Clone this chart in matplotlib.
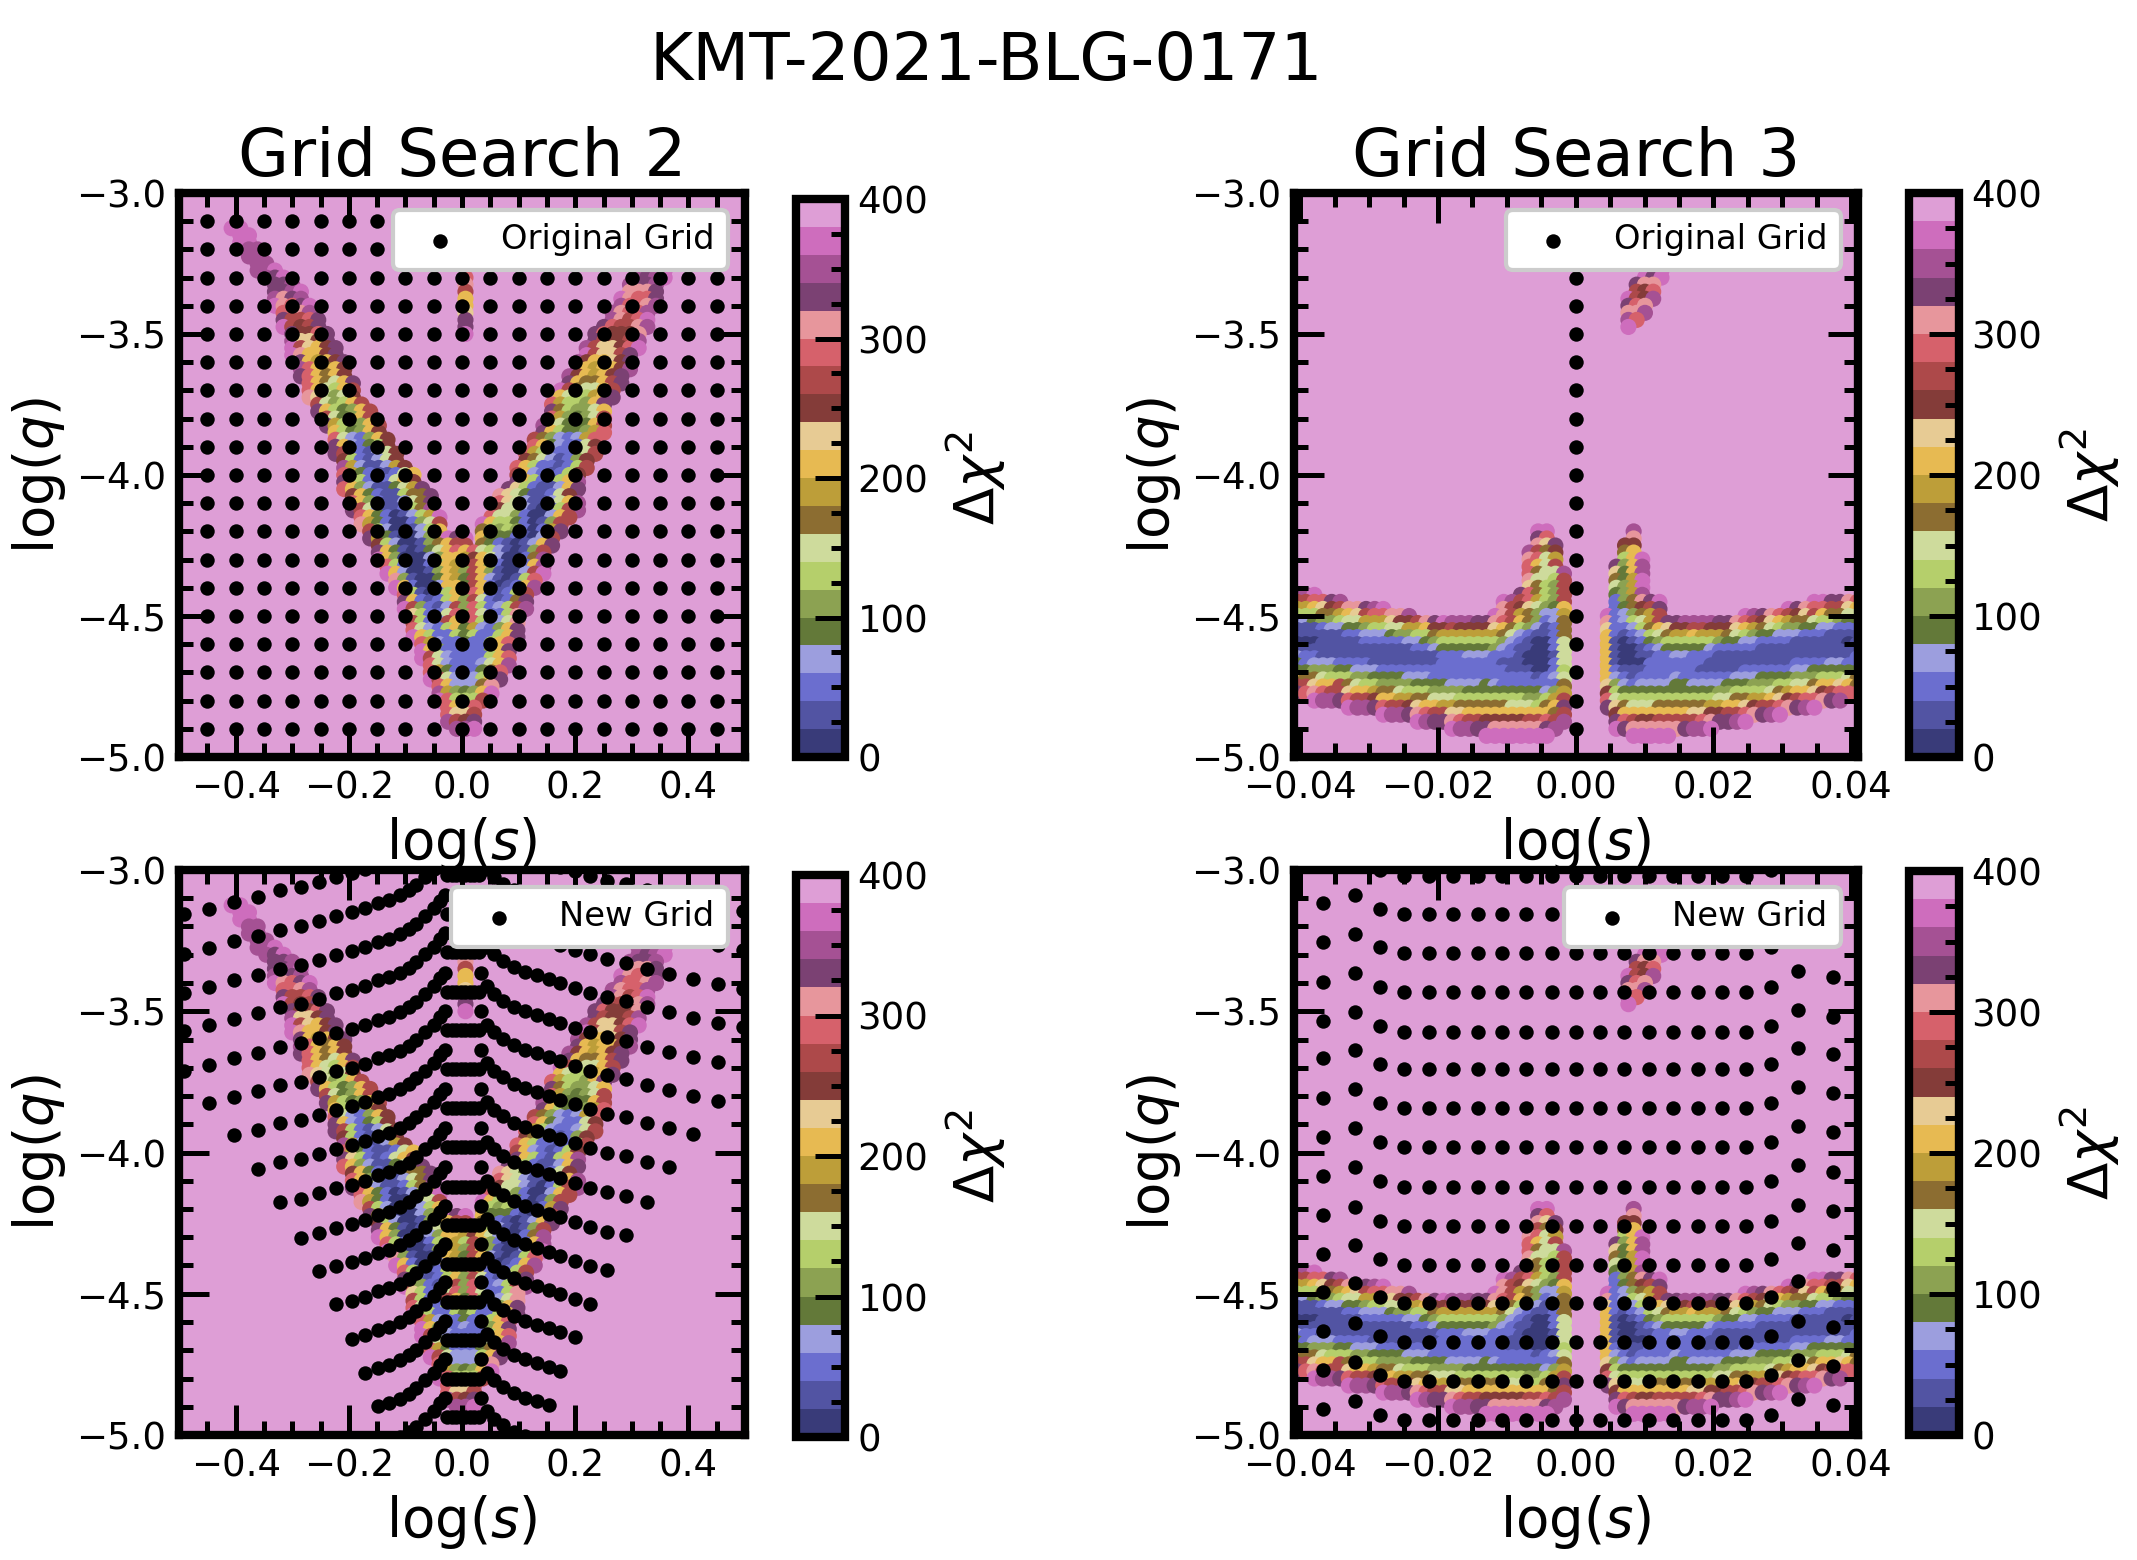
import matplotlib
matplotlib.use("Agg")
import matplotlib.pyplot as plt
from matplotlib.ticker import MultipleLocator

# level letters: a = 0-20 ... t = 380-400 (one letter per colour bin)
LEVELS = "abcdefghijklmnopqrst"

# log(s) origin/step of the search 2 map, and (log q, first column, levels)
v_origin = 0.4 * 0.0153
v_step = 0.0153
v_rows = [
    (-3.125, -27, "ss"), (-3.15, -26, "ss"), (-3.175, -26, "ss"), (-3.2, -25, "rr"),
    (-3.225, -25, "rr"), (-3.25, -24, "rr"), (-3.25, 21, "ss"),
    (-3.275, -24, "rrs"), (-3.275, 20, "rqrs"),
    (-3.3, -23, "rqs"), (-3.3, 0, "o"), (-3.3, 20, "rqrs"),
    (-3.325, -22, "qqr"), (-3.325, 0, "p"), (-3.325, 19, "rqqr"),
    (-3.35, -22, "qqrs"), (-3.35, 0, "n"), (-3.35, 19, "pppq"),
    (-3.375, -22, "rpqr"), (-3.375, 0, "k"), (-3.375, 18, "spooq"),
    (-3.4, -22, "spoqs"), (-3.4, 0, "k"), (-3.4, 18, "roopr"),
    (-3.425, -21, "oopr"), (-3.425, 0, "l"), (-3.425, 17, "rpoor"),
    (-3.45, -21, "qnnoq"), (-3.45, 0, "q"), (-3.45, 17, "rpnos"),
    (-3.475, -21, "snmnq"), (-3.475, 0, "q"), (-3.475, 16, "qonnpr"),
    (-3.5, -20, "qmmoq"), (-3.5, 0, "s"), (-3.5, 15, "qommmp"),
    (-3.525, -20, "rllmq"), (-3.525, 15, "qnmmnr"),
    (-3.55, -20, "snlkmq"), (-3.55, 14, "rnllmos"),
    (-3.575, -20, "spkkmq"), (-3.575, 14, "snllnq"),
    (-3.6, -19, "qkjkmq"), (-3.6, 13, "rmkklmq"),
    (-3.625, -19, "rokikm"), (-3.625, 13, "qkjkkmr"),
    (-3.65, -19, "qokikm"), (-3.65, 12, "rmkjkmq"),
    (-3.675, -18, "okihkq"), (-3.675, 12, "qkiiknq"),
    (-3.7, -18, "okhgkn"), (-3.7, 11, "snihhkn"),
    (-3.725, -18, "plhfhm"), (-3.725, 11, "khggjkq"),
    (-3.75, -17, "nhfgkn"), (-3.75, 10, "ojggfkq"),
    (-3.775, -17, "qkgefkn"), (-3.775, 10, "qigffhk"),
    (-3.8, -16, "nhefkn"), (-3.8, 10, "ojfefhn"),
    (-3.825, -16, "qjgefkn"), (-3.825, 9, "rjheeekn"),
    (-3.85, -15, "kgefkm"), (-3.85, 9, "qkgeefjo"),
    (-3.875, -15, "ohdcfkm"), (-3.875, 8, "nifdcdjo"),
    (-3.9, -15, "qkdcegm"), (-3.9, 8, "okedcchm"),
    (-3.925, -15, "qngcbdhm"), (-3.925, 7, "ojgdccdhn"),
    (-3.95, -14, "mgcbdhm"), (-3.95, 7, "mihdbcfm"),
    (-3.975, -14, "rjdbbdjm"), (-3.975, 6, "okgccbcgn"),
    (-4.0, -14, "ojecbbchk"), (-4.0, 6, "nkdcbcgm"),
    (-4.025, -14, "qlgcbchkm"), (-4.025, 6, "qkgcbgkr"),
    (-4.05, -14, "okfdbbehjq"), (-4.05, 5, "qlgcbbdkq"),
    (-4.075, -13, "mkecbbgiiq"), (-4.075, 4, "plhebbchm"),
    (-4.1, -13, "okfcbbdhiq"), (-4.1, 4, "olhdbbdhkr"),
    (-4.125, -13, "qnhdbbcgir"), (-4.125, 4, "mhhdbacgnr"),
    (-4.15, -12, "okecabdgjs"), (-4.15, 3, "ohhfcaadkn"),
    (-4.175, -12, "pjecaacfhn"), (-4.175, 2, "skggecabfn"),
    (-4.2, -11, "ngdaabdgk"), (-4.2, 2, "igfgfcacjq"),
    (-4.225, -11, "qjebaadfjs"), (-4.225, -1, "qs"), (-4.225, 2, "keeecbadn"),
    (-4.25, -10, "mgdaabfik"), (-4.25, -1, "nn"), (-4.25, 2, "iecbabdkq"),
    (-4.275, -10, "qkebabehk"), (-4.275, -1, "ok"), (-4.275, 1, "ohgdbabfn"),
    (-4.3, -10, "skfaaadfk"), (-4.3, -1, "kj"), (-4.3, 1, "mkhdaacir"),
    (-4.325, -9, "ogcaacgkjgnkfcaackr"),
    (-4.35, -9, "skdaabfkjfnkfbaadns"),
    (-4.375, -8, "pfbaaekjenkdbabgo"),
    (-4.4, -8, "skcaadkkenkcabckr"),
    (-4.425, -7, "ogbacgkfokcbcgn"),
    (-4.45, -7, "qkcbcgkfnhcbciq"),
    (-4.475, -7, "snfcbdnfogcdgnr"),
    (-4.5, -6, "lgcchofohccgp"),
    (-4.525, -6, "ngcdnkeogcdhp"),
    (-4.55, -6, "ohdcgkejdcfkq"),
    (-4.575, -6, "skgccgegccgkq"),
    (-4.6, -5, "ojdcceccgko"),
    (-4.625, -5, "skfccdccfkq"),
    (-4.65, -5, "snhdccccgko"),
    (-4.675, -4, "ohdcccdhkr"),
    (-4.7, -4, "ojeccceio"),
    (-4.725, -4, "snhdddgkq"),
    (-4.75, -3, "okdddip"),
    (-4.775, -3, "rjfefks"),
    (-4.8, -3, "sogggn"),
    (-4.825, -2, "okko"),
    (-4.85, -2, "olln"),
    (-4.875, -2, "rnmq"),
    (-4.9, -1, "rrs"),
]

# search 3 map, left of the gap: column 32 is the one nearest log(s) = 0
g3_left_origin = -0.00171 - 32 * 0.00125
g3_step = 0.00125
g3_left_rows = [
    (-4.2, 29, "ss"), (-4.225, 29, "qo"), (-4.25, 29, "plq"), (-4.275, 28, "rnim"),
    (-4.3, 28, "pohj"), (-4.325, 28, "okhn"), (-4.35, 28, "oihhr"), (-4.375, 28, "phhgn"),
    (-4.4, 28, "ligfn"), (-4.425, 1, "qrs"), (-4.425, 27, "qoigfn"),
    (-4.45, 1, "nnooqr"), (-4.45, 25, "srnojgfn"),
    (-4.475, 1, "jjklmnppqrs"), (-4.475, 25, "pnmlhfek"),
    (-4.5, 1, "gggiijklnooppr"), (-4.5, 24, "spnjifddj"),
    (-4.525, 1, "cdeffghhjjjlmmnpq"), (-4.525, 18, "srrrqqponkifcdi"),
    (-4.55, 1, "bbbcddeefgghhjjkmmnmmmmlkigfdbci"),
    (-4.575, 1, "bbbbbbccdddeffggijjjjjjjihdcbbci"),
    (-4.6, 1, "aaabbbbbcccccddefgggggggfdcbaach"),
    (-4.625, 1, "bbbbbbbbbbbbbbccdeeeeeefdcbbaach"),
    (-4.65, 1, "dccbbbbbbbbbbbbbbcccdddcccbaaabh"),
    (-4.675, 1, "ecdddccccbbbbbbbbcccccccbbbaaach"),
    (-4.7, 1, "eefffeedddcccccccccccccccbbbaacg"),
    (-4.725, 1, "kiihgggffeeeedddccccccccccccbcdh"),
    (-4.75, 1, "nnlkknihggffffeeeeddddedccccccci"),
    (-4.775, 1, "qoponnlkkjiihgggffffeeeeeeeeedfj"),
    (-4.8, 3, "srrqonnmkkjjiihhhggggggggffgjn"),
    (-4.825, 7, "srrqonnmlkkjjiiiiiihhhgikq"),
    (-4.85, 11, "srrqponnllkkkkkkkkkkin"),
    (-4.875, 15, "srqqponnmmmmmnnonr"),
    (-4.9, 19, "srrqqppppppqr"),
    (-4.925, 23, "ssssssss"),
]

# search 3 map, right of the gap
g3_right_origin = 0.00466
g3_right_rows = [
    (-4.2, 3, "r"), (-4.225, 3, "p"), (-4.25, 2, "mm"), (-4.275, 2, "ik"), (-4.3, 2, "gks"),
    (-4.325, 1, "qfkr"), (-4.35, 1, "lekr"), (-4.375, 1, "iejs"), (-4.4, 1, "hfjs"),
    (-4.425, 1, "efjr"), (-4.45, 1, "cfipqs"), (-4.45, 24, "ssqqpo"),
    (-4.475, 1, "ceimnq"), (-4.475, 21, "sqpoonnlk"),
    (-4.5, 0, "scdfijn"), (-4.5, 16, "srqponmlnkiihh"),
    (-4.525, 0, "pcdghjnqqrrrrqqponmlkjiihggfee"),
    (-4.55, 0, "lccdgiklmmnnmmmlkjihgffeeddccc"),
    (-4.575, 0, "kcbcdghijjkjjjihgfeedddcccbbbb"),
    (-4.6, 0, "kbabcefggggggfeeddccccbbbbbbab"),
    (-4.625, 0, "kbaabcdeeeeedcccccbbbbbbbbbbbb"),
    (-4.65, 0, "kbaabbccddcccbbbbbbbbbbbbbbbbc"),
    (-4.675, 0, "kbaaacccccccbbbbbbbbbbccccddcc"),
    (-4.7, 0, "kcbbbccccccbbbbbccccccddeeeeee"),
    (-4.725, 0, "kdcbccccdccccccdddeeeefffggghi"),
    (-4.75, 0, "lfdcddddeeddddeeefffgghhikklki"),
    (-4.775, 0, "mgeeeeeeeeeeeffgggghijkklmnooo"),
    (-4.8, 0, "ohggggggggggghhiijjklmnoopqr"),
    (-4.825, 0, "qlihhhiiiiiijjkklmnnopqrs"),
    (-4.85, 1, "mkkkkkkkkllmmnnopqrs"),
    (-4.875, 1, "qonmmnnnnnopqqrs"),
    (-4.9, 1, "sqppppppqrrs"),
    (-4.925, 3, "sssss"),
]

# small island above the search 3 band
g3_island_origin = 0.00765
g3_island_rows = [
    (-3.275, 3, "ss"), (-3.3, 2, "sqs"), (-3.325, 1, "qpp"), (-3.35, 1, "nmo"),
    (-3.375, 0, "snmr"), (-3.4, 0, "qop"), (-3.425, 0, "ppr"), (-3.45, 0, "ro"), (-3.475, 0, "s"),
]

# original grids
orig2_s = [-0.45, -0.40, -0.35, -0.30, -0.25, -0.20, -0.15, -0.10, -0.05, 0.0,
           0.05, 0.10, 0.15, 0.20, 0.25, 0.30, 0.35, 0.40, 0.45]
orig2_q = [-3.1, -3.2, -3.3, -3.4, -3.5, -3.6, -3.7, -3.8, -3.9, -4.0,
           -4.1, -4.2, -4.3, -4.4, -4.5, -4.6, -4.7, -4.8, -4.9]
orig3_s = [0.0]
orig3_q = [-3.3, -3.4, -3.5, -3.6, -3.7, -3.8, -3.9, -4.0, -4.1, -4.2, -4.3, -4.4, -4.5, -4.6, -4.7, -4.8, -4.9]

# new grid of search 2: chevrons
new2_peak_q = [-2.811, -2.950, -3.088, -3.224, -3.364, -3.500, -3.636, -3.774, -3.914,
               -4.053, -4.189, -4.325, -4.460, -4.596, -4.732, -4.868]
new2_n_left = [19, 19, 19, 19, 19, 18, 17, 16, 15, 14, 13, 12, 11, 10, 9, 8]
new2_n_right = [18, 18, 18, 18, 17, 17, 16, 15, 14, 13, 12, 11, 10, 9, 8, 7]
new2_left_s = [-0.030, -0.038, -0.050, -0.066, -0.081, -0.093, -0.109, -0.129, -0.149, -0.171,
               -0.194, -0.222, -0.253, -0.284, -0.322, -0.361, -0.402, -0.447, -0.492]
new2_left_dq = [0, 0.020, 0.048, 0.075, 0.102, 0.122, 0.139, 0.156, 0.167, 0.186,
                0.200, 0.213, 0.231, 0.249, 0.261, 0.283, 0.303, 0.326, 0.346]
new2_right_s = [0.033, 0.045, 0.057, 0.073, 0.092, 0.112, 0.132, 0.153, 0.173, 0.199,
                0.226, 0.256, 0.289, 0.326, 0.365, 0.409, 0.452, 0.496]
new2_right_dq = [0, 0.048, 0.075, 0.098, 0.120, 0.136, 0.149, 0.163, 0.177, 0.194,
                 0.211, 0.227, 0.240, 0.261, 0.279, 0.299, 0.317, 0.333]
new2_base_s = [-0.026, -0.018, -0.010, -0.002, 0.006, 0.014, 0.022, 0.030]
new2_base_dq = 0.068

# new grid of search 3: rows, with the outer columns bent upwards
new3_s = [-0.0367, -0.0320, -0.0284, -0.0249, -0.0213, -0.0178, -0.0142, -0.0107, -0.0072, -0.0035, 0.0,
          0.0035, 0.0070, 0.0106, 0.0141, 0.0177, 0.0212, 0.0247, 0.0284, 0.0323, 0.0374]
new3_dq = [0.038, 0.068, 0.019, 0, 0, 0, 0, 0, 0, 0, 0, 0, 0, 0, 0, 0, 0, 0, 0.019, 0.075, 0.053]
new3_q = [-3.02, -3.156, -3.293, -3.433, -3.572, -3.705, -3.844, -3.982, -4.121, -4.26,
          -4.397, -4.531, -4.67, -4.808, -4.947]

W, H = 2137, 1560


def box(x0, x1, y0, y1):
    return [x0 / W, 1 - y1 / H, (x1 - x0) / W, (y1 - y0) / H]


def map_points(rows, origin, step):
    xs, ys, cs = [], [], []
    for q, start, levels in rows:
        for i, ch in enumerate(levels):
            xs.append(origin + (start + i) * step)
            ys.append(q)
            cs.append((LEVELS.index(ch) + 0.5) * 20)
    return xs, ys, cs


def style_axis(ax, xmajor, xminor):
    ax.xaxis.set_major_locator(MultipleLocator(xmajor))
    ax.xaxis.set_minor_locator(MultipleLocator(xminor))
    ax.yaxis.set_major_locator(MultipleLocator(0.5))
    ax.yaxis.set_minor_locator(MultipleLocator(0.1))
    ax.tick_params(which='major', direction='in', top=True, right=True, length=7.2, width=1.2, labelsize=8.9, pad=3)
    ax.tick_params(which='minor', direction='in', top=True, right=True, length=3.4, width=1.2)
    ax.set_ylim(-5, -3)
    for sp in ax.spines.values():
        sp.set_linewidth(2)
    ax.set_xlabel(r'log($s$)', fontsize=13.1, labelpad=2)
    ax.set_ylabel(r'log($q$)', fontsize=13.1, labelpad=2)
    ax.set_facecolor('#de9ed6')


def add_colorbar(fig, mappable, rect):
    cax = fig.add_axes(rect)
    cb = fig.colorbar(mappable, cax=cax)
    cb.outline.set_linewidth(2)
    cb.set_ticks([0, 100, 200, 300, 400])
    cax.yaxis.set_minor_locator(MultipleLocator(25))
    cax.tick_params(which='major', direction='in', length=7.2, width=1.2, labelsize=8.9, pad=3)
    cax.tick_params(which='minor', direction='in', length=3.4, width=1.2)
    cb.set_label(r'$\Delta\chi^2$', fontsize=13.1, labelpad=3.5)


fig = plt.figure(figsize=(W / 300, H / 300), dpi=300)

ax_tl = fig.add_axes(box(179, 745, 193, 757))
ax_tr = fig.add_axes(box(1293.5, 1858, 193, 757))
ax_bl = fig.add_axes(box(179, 745, 870, 1435))
ax_br = fig.add_axes(box(1293.5, 1858, 870, 1435))

# coloured maps
vx, vy, vc = map_points(v_rows, v_origin, v_step)
lx, ly, lc = map_points(g3_left_rows, g3_left_origin, g3_step)
rx, ry, rc = map_points(g3_right_rows, g3_right_origin, g3_step)
ix, iy, ic = map_points(g3_island_rows, g3_island_origin, 0.0012)
g3x, g3y, g3c = lx + rx + ix, ly + ry + iy, lc + rc + ic

map_style = dict(s=15, cmap='tab20b', vmin=0, vmax=400, linewidths=0)
dot_style = dict(s=12, color='k', linewidths=0)

sc_tl = ax_tl.scatter(vx, vy, c=vc, **map_style)
sc_bl = ax_bl.scatter(vx, vy, c=vc, **map_style)
sc_tr = ax_tr.scatter(g3x, g3y, c=g3c, **map_style)
sc_br = ax_br.scatter(g3x, g3y, c=g3c, **map_style)

# black grids
ax_tl.scatter([s for q in orig2_q for s in orig2_s], [q for q in orig2_q for s in orig2_s],
              label='Original Grid', **dot_style)
ax_tr.scatter([s for q in orig3_q for s in orig3_s], [q for q in orig3_q for s in orig3_s],
              label='Original Grid', **dot_style)

bl_x, bl_y = [], []
for peak, nl, nr in zip(new2_peak_q, new2_n_left, new2_n_right):
    bl_x += new2_left_s[:nl] + new2_right_s[:nr] + new2_base_s
    bl_y += [peak - d for d in new2_left_dq[:nl]] + [peak - d for d in new2_right_dq[:nr]]
    bl_y += [peak - new2_base_dq] * len(new2_base_s)
ax_bl.scatter(bl_x, bl_y, label='New Grid', **dot_style)

br_x, br_y = [], []
for q in new3_q:
    for s, d in zip(new3_s, new3_dq):
        br_x.append(s)
        br_y.append(q + d)
ax_br.scatter(br_x, br_y, label='New Grid', **dot_style)

for ax in (ax_tl, ax_bl):
    ax.set_xlim(-0.5, 0.5)
    style_axis(ax, 0.2, 0.05)
for ax in (ax_tr, ax_br):
    ax.set_xlim(-0.041, 0.041)
    style_axis(ax, 0.02, 0.005)
for ax in (ax_tl, ax_tr, ax_bl, ax_br):
    ax.legend(loc='upper right', fontsize=8.1, framealpha=1)

ax_tl.set_title('Grid Search 2', fontsize=15.8, pad=4)
ax_tr.set_title('Grid Search 3', fontsize=15.8, pad=4)

add_colorbar(fig, sc_tl, box(796, 845, 199, 757))
add_colorbar(fig, sc_tr, box(1909, 1959, 193, 757))
add_colorbar(fig, sc_bl, box(796, 845, 875, 1437))
add_colorbar(fig, sc_br, box(1909, 1959, 871, 1435))

fig.text(986.5 / W, 1 - 62 / H, 'KMT-2021-BLG-0171', fontsize=15.85, ha='center', va='center')

fig.savefig('out.png', dpi=300)
